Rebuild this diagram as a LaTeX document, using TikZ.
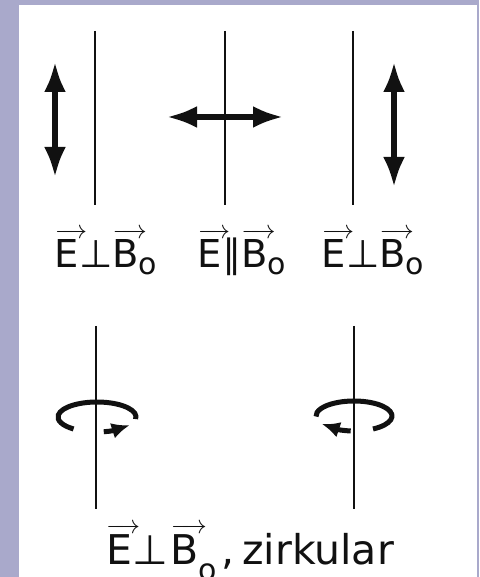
\RequirePackage{fix-cm}
\documentclass[tikz,border=0pt]{standalone}
\usepackage{fontspec}
\setmainfont{DejaVu Sans}
\usetikzlibrary{arrows.meta, bending}
\definecolor{FrameLilac}{HTML}{A9A9CB}
\definecolor{InkBlack}{HTML}{111111}

% letter with a thin vector arrow over it
\newcommand{\fieldvec}[2]{{\fontsize{13}{13}\selectfont
  $\overrightarrow{\mbox{\fontsize{#2}{#2}\selectfont\rule{0pt}{0.82em}#1\hspace{4pt}}}$}\hspace{-4pt}}
\newcommand{\subnull}[1]{\raisebox{#1}{\fontsize{15}{15}\selectfont o}}

\tikzset{
  fieldline/.style={draw=InkBlack, line width=1.2pt},
  polarrow/.style={draw=InkBlack, line width=2.6pt,
    arrows={Latex[length=15pt,width=11pt]-Latex[length=15pt,width=11pt]}},
  spinarc/.style={draw=InkBlack, line width=2.5pt},
  spinarrow/.style={spinarc, arrows={-Latex[length=9pt,width=8pt,flex]}},
  wavelabel/.style={anchor=base, inner sep=0pt, text=InkBlack,
    font=\fontsize{19.2}{22}\selectfont}
}

\begin{document}
\begin{tikzpicture}[x=0.5pt, y=0.5pt]
\useasboundingbox (0,0) rectangle (479,577);
\fill[FrameLilac] (0,0) rectangle (479,577);
\fill[white] (19,0) rectangle (477,572);

% field lines B_0, upper row
\foreach \n/\x in {1/95, 2/225, 3/353} {
  \coordinate (top\n) at (\x,546);
  \coordinate (bot\n) at (\x,372);
  \draw[fieldline] (top\n) -- (bot\n);
}

% linear polarisation
\coordinate (eA1) at (55,515);  \coordinate (eA2) at (55,400);
\coordinate (eB1) at (167,460); \coordinate (eB2) at (283,460);
\coordinate (eC1) at (394,515); \coordinate (eC2) at (394,390);
\draw[polarrow] (eA1) -- (eA2);
\draw[polarrow] (eB1) -- (eB2);
\draw[polarrow] (eC1) -- (eC2);

\node[wavelabel] (perpA) at (106,309)
  {\fieldvec{E}{19.2}⊥\fieldvec{B}{19.2}\subnull{-3.5pt}};
\node[wavelabel] (para)  at (242,309)
  {\fieldvec{E}{19.2}∥\fieldvec{B}{19.2}\subnull{-3.5pt}};
\node[wavelabel] (perpB) at (373,309)
  {\fieldvec{E}{19.2}⊥\fieldvec{B}{19.2}\subnull{-3.5pt}};

% field lines B_0, lower row
\foreach \n/\x in {4/96, 5/354} {
  \coordinate (top\n) at (\x,251);
  \coordinate (bot\n) at (\x,68);
  \draw[fieldline] (top\n) -- (bot\n);
}

% circular polarisation
\coordinate (spinL) at (97,160);
\coordinate (spinR) at (354,161);
\draw[spinarc] (spinL) ++(-8:39 and 15)
  arc[start angle=-8, end angle=233, x radius=39, y radius=15];
\draw[spinarrow] (spinL) ++(280:39 and 15)
  arc[start angle=280, end angle=327, x radius=39, y radius=15];
\draw[spinarc] (spinR) ++(-60:38 and 15)
  arc[start angle=-60, end angle=182, x radius=38, y radius=15];
\draw[spinarrow] (spinR) ++(265:38 and 15)
  arc[start angle=265, end angle=212, x radius=38, y radius=15];

\node[wavelabel, font=\fontsize{20.5}{24}\selectfont] (circ) at (250,12)
  {\fieldvec{E}{20.5}⊥\hspace{1.5pt}\fieldvec{B}{20.5}\subnull{-8pt}\hspace{2pt},\hspace{4pt}zirkular};
\end{tikzpicture}
\end{document}
